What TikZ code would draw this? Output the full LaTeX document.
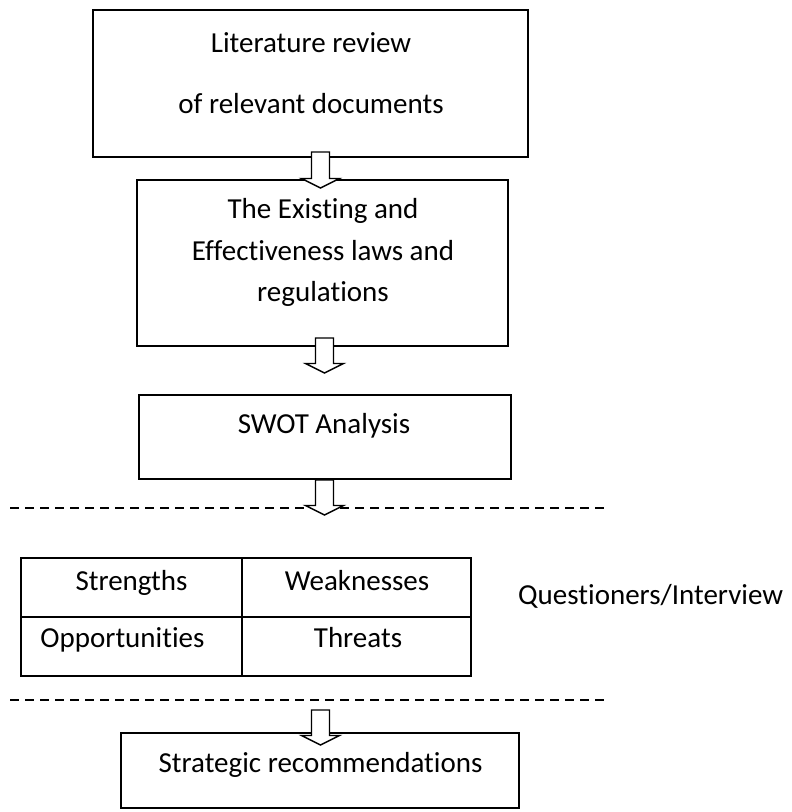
\documentclass[tikz,border=0pt]{standalone}
\usepackage{fontspec}
\setmainfont[Ligatures=NoCommon]{Carlito}
\usetikzlibrary{calc}
\tikzset{
  box/.style={draw=black, line width=1.6pt, rectangle, inner sep=0pt, fill=white},
  txt/.style={anchor=base, inner sep=0pt, font=\fontsize{29}{35}\selectfont},
  blockarrow/.style={draw=black, line width=1.4pt, fill=white, line join=miter},
  sep/.style={draw=black, line width=1.4pt, dash pattern=on 9pt off 6pt}
}
\newcommand{\barrow}[2]{%
  \draw[blockarrow] ($(#1)+(-9,0)$) -- ($(#2)+(-9,-9.5)$) -- ($(#2)+(-19,-9.5)$) -- (#2)
    -- ($(#2)+(19,-9.5)$) -- ($(#2)+(9,-9.5)$) -- ($(#1)+(9,0)$) -- cycle;}
\begin{document}
\begin{tikzpicture}[x=1pt,y=-1pt]
\useasboundingbox (0,0) rectangle (792,812);
% boxes
\node[box, minimum width=435pt, minimum height=147pt] (b1) at (310.5,83.5) {};
\node[box, minimum width=371pt, minimum height=166pt] (b2) at (322.5,263) {};
\node[box, minimum width=372pt, minimum height=84pt] (b3) at (325,437) {};
\node[box, minimum width=221pt, minimum height=59pt] (cs) at (131.5,587.5) {};
\node[box, minimum width=229pt, minimum height=59pt] (cw) at (356.5,587.5) {};
\node[box, minimum width=221pt, minimum height=59pt] (co) at (131.5,646.5) {};
\node[box, minimum width=229pt, minimum height=59pt] (ct) at (356.5,646.5) {};
\node[box, minimum width=398pt, minimum height=75pt] (b4) at (320,770.5) {};
% texts
\node[txt] (t1a) at (311,52) {Literature review};
\node[txt] (t1b) at (311,113) {of relevant documents};
\node[txt] (t2a) at (323,218) {The Existing and};
\node[txt] (t2b) at (323,260) {Effectiveness laws and};
\node[txt] (t2c) at (323,301) {regulations};
\node[txt] (t3) at (324,433) {SWOT Analysis};
\node[txt] (ts) at (131.5,590) {Strengths};
\node[txt] (tw) at (357,590) {Weaknesses};
\node[txt] (to) at (122.5,647) {Opportunities};
\node[txt] (tt) at (358,647) {Threats};
\node[txt, anchor=base west] (tq) at (518,604) {Questioners/Interview};
\node[txt] (t4) at (320.5,772) {Strategic recommendations};
% dashed separators
\coordinate (d1a) at (10,508); \coordinate (d1b) at (606,508);
\coordinate (d2a) at (10,700); \coordinate (d2b) at (606,700);
\draw[sep] (d1a) -- (d1b);
\draw[sep] (d2a) -- (d2b);
% block arrows
\coordinate (a1s) at (320.5,152); \coordinate (a1e) at (320.5,188);
\coordinate (a2s) at (324.5,338); \coordinate (a2e) at (324.5,373);
\coordinate (a3s) at (324.5,480); \coordinate (a3e) at (324.5,515);
\coordinate (a4s) at (320.5,710); \coordinate (a4e) at (320.5,745);
\barrow{a1s}{a1e}
\barrow{a2s}{a2e}
\barrow{a3s}{a3e}
\barrow{a4s}{a4e}
\end{tikzpicture}
\end{document}
